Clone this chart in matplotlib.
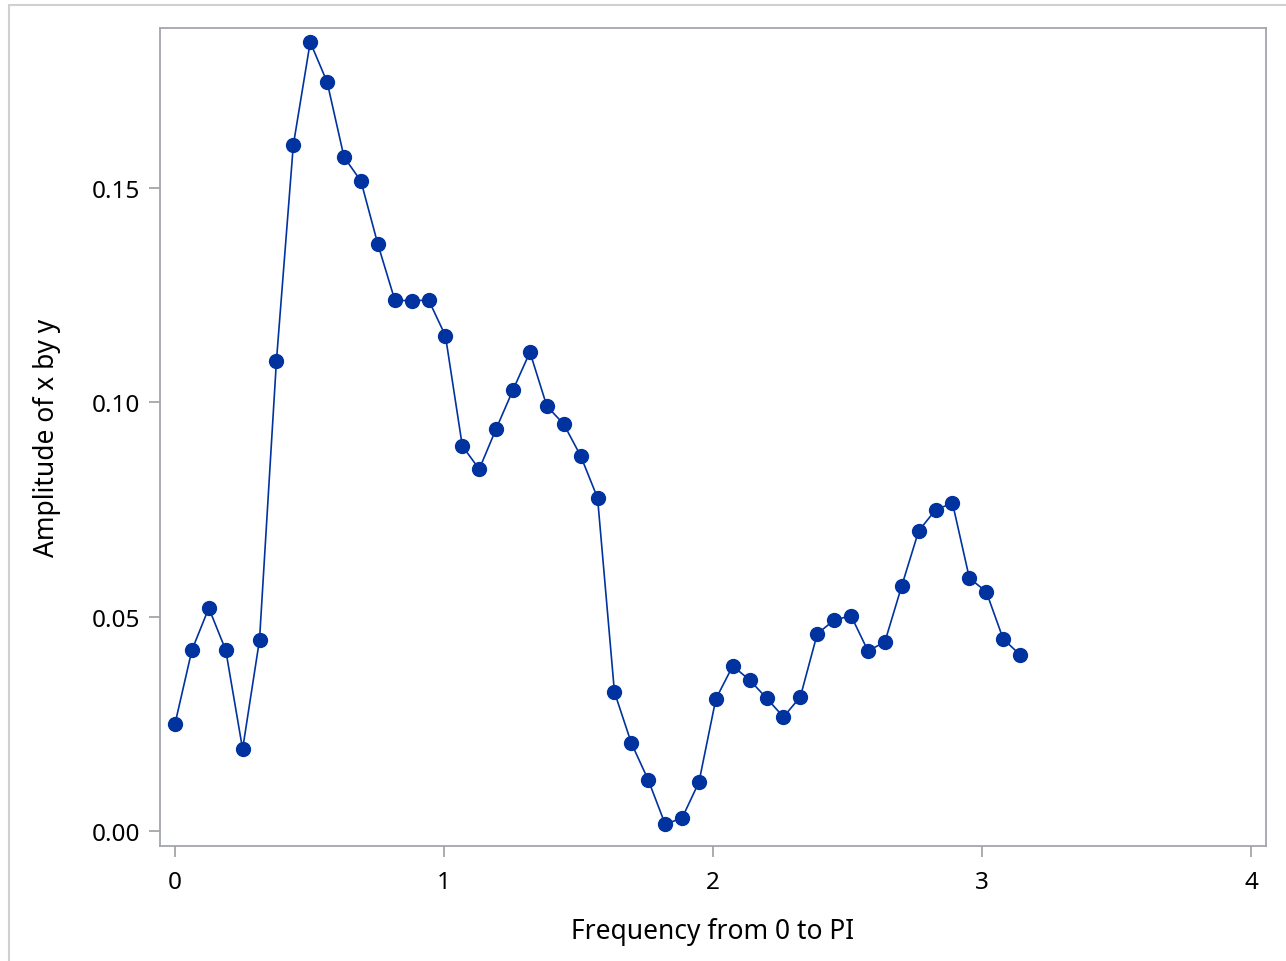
import numpy as np
import matplotlib.pyplot as plt
from matplotlib.patches import Rectangle

# spectral amplitude at frequencies k*pi/50, k = 0..50
k = np.arange(51)
freq = k * np.pi / 50
amplitude = [0.0250, 0.0422, 0.0520, 0.0422, 0.0191, 0.0446, 0.1096, 0.1600, 0.1840, 0.1747,
             0.1572, 0.1516, 0.1369, 0.1239, 0.1236, 0.1239, 0.1155, 0.0898, 0.0844, 0.0938,
             0.1029, 0.1117, 0.0991, 0.0949, 0.0875, 0.0777, 0.0324, 0.0205, 0.0119, 0.0016,
             0.0030, 0.0114, 0.0308, 0.0385, 0.0352, 0.0310, 0.0266, 0.0313, 0.0460, 0.0492,
             0.0502, 0.0420, 0.0441, 0.0572, 0.0700, 0.0749, 0.0765, 0.0590, 0.0558, 0.0448,
             0.0411]

plt.rcParams['font.family'] = ['Noto Sans', 'DejaVu Sans']
fig = plt.figure(figsize=(12.86, 9.62), dpi=100)
fig.patches.append(Rectangle((9/1286, -0.1), 1.2, 1 - 6/962 + 0.1, transform=fig.transFigure,
                             fill=False, edgecolor='#d0d0d0', linewidth=1.5))

ax = fig.add_axes([160/1286, 1 - 847/962, (1266-160)/1286, (847-29)/962])
ax.plot(freq, amplitude, color='#0033a0', linewidth=1.2, marker='o', markersize=10)

ax.set_xlim(-0.0558, 4.0558)
ax.set_ylim(-0.0035, 0.1873)
ax.set_xticks([0, 1, 2, 3, 4])
ax.set_yticks([0.0, 0.05, 0.10, 0.15])
ax.set_yticklabels(['0.00', '0.05', '0.10', '0.15'])

for s in ax.spines.values():
    s.set_color('#a3a7ab')
    s.set_linewidth(1.3)
ax.tick_params(length=8, width=1.3, color='#a3a7ab', labelsize=17.5, pad=6, labelcolor='black')
ax.tick_params(axis='x', pad=9)

ax.set_xlabel('Frequency from 0 to PI', fontsize=19, labelpad=17)
ax.set_ylabel('Amplitude of x by y', fontsize=19, labelpad=22)

fig.savefig('out.png', dpi=100)
